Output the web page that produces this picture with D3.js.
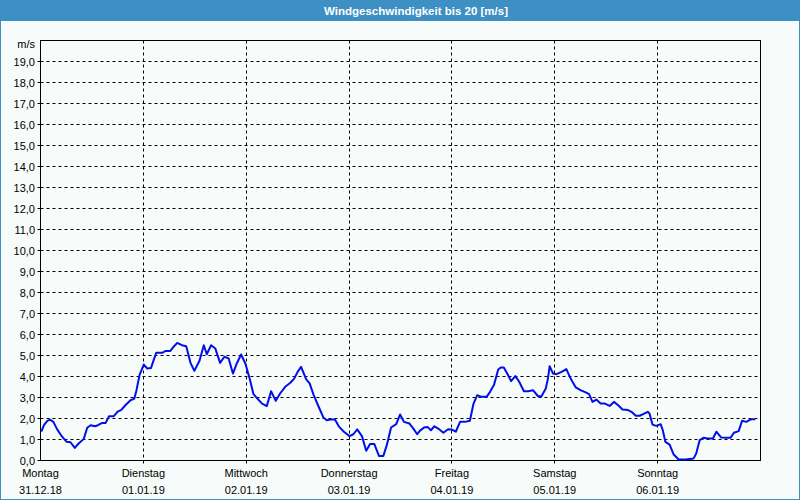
<!DOCTYPE html>
<html><head><meta charset="utf-8">
<script src="https://cdn.jsdelivr.net/npm/d3@7"></script>
<style>
html,body{margin:0;padding:0;background:#f7fbf9;}
svg{display:block;}
</style></head>
<body>
<svg id="c" width="800" height="500"></svg>
<script>
const title = "Windgeschwindigkeit bis 20 [m/s]";
const unitLabel = "m/s";
const dayNames = ["Montag","Dienstag","Mittwoch","Donnerstag","Freitag","Samstag","Sonntag"];
const dayDates = ["31.12.18","01.01.19","02.01.19","03.01.19","04.01.19","05.01.19","06.01.19"];
const yTicks = [0,1,2,3,4,5,6,7,8,9,10,11,12,13,14,15,16,17,18,19];
// hours since Monday 00:00
const hours = [0.2,0.8,1.6,2.2,3.0,3.9,4.8,6.1,7.0,8.0,8.9,10.1,10.9,11.7,12.7,13.4,14.4,15.2,16.0,17.1,18.0,18.8,19.8,21.0,21.9,22.4,23.1,24.1,24.9,25.8,26.4,27.0,28.4,29.1,30.3,30.9,31.9,33.0,34.0,35.0,35.9,37.1,38.1,38.8,39.8,40.8,41.9,42.9,43.9,44.9,45.8,46.8,47.8,48.8,49.7,50.6,51.7,52.8,53.8,54.9,55.9,57.1,58.3,59.2,60.0,60.8,62.0,62.8,63.7,64.9,66.0,66.8,67.6,68.7,69.7,70.8,72.1,73.0,73.9,75.0,76.0,76.9,77.9,79.0,80.0,80.8,81.8,83.0,83.9,84.8,86.1,87.0,87.9,88.5,89.5,90.3,91.1,91.9,92.8,94.0,95.1,95.9,96.9,97.9,99.0,100.2,101.0,101.9,102.9,104.1,104.9,105.8,106.8,107.4,108.1,108.9,109.8,110.8,111.7,112.8,113.8,114.9,116.1,116.9,117.9,118.4,118.8,119.6,120.4,121.6,122.7,123.7,124.9,126.0,127.2,128.0,128.8,129.7,130.7,131.7,132.8,133.8,134.8,135.8,137.1,137.9,138.9,139.8,140.6,141.7,142.1,142.8,143.7,144.7,145.2,145.8,146.8,147.7,148.9,150.5,152.4,153.0,153.8,154.7,155.7,156.9,157.7,158.8,160.0,161.0,161.8,162.9,163.7,164.7,165.4,166.1,166.8];
const speed = [1.37,1.68,1.89,1.95,1.84,1.48,1.20,0.89,0.87,0.60,0.81,1.03,1.56,1.68,1.63,1.68,1.79,1.79,2.11,2.11,2.33,2.40,2.63,2.87,2.95,3.35,4.06,4.57,4.38,4.41,4.78,5.13,5.13,5.21,5.22,5.38,5.60,5.49,5.44,4.65,4.27,4.75,5.49,5.06,5.49,5.33,4.65,4.94,4.86,4.14,4.62,5.05,4.62,3.90,3.16,2.95,2.71,2.59,3.30,2.84,3.19,3.51,3.70,3.90,4.22,4.46,3.86,3.67,3.14,2.56,2.05,1.92,1.95,1.95,1.60,1.37,1.16,1.25,1.48,1.16,0.46,0.78,0.78,0.21,0.22,0.73,1.57,1.73,2.19,1.84,1.76,1.52,1.25,1.41,1.57,1.60,1.44,1.63,1.52,1.32,1.49,1.48,1.37,1.84,1.84,1.89,2.68,3.11,3.03,3.03,3.27,3.59,4.33,4.43,4.43,4.14,3.78,4.02,3.75,3.30,3.30,3.35,3.06,3.06,3.43,3.90,4.49,4.14,4.11,4.22,4.35,3.90,3.48,3.35,3.24,3.16,2.79,2.90,2.71,2.71,2.60,2.79,2.63,2.43,2.40,2.32,2.13,2.13,2.21,2.32,2.24,1.71,1.65,1.73,1.44,0.89,0.76,0.30,0.05,0.05,0.10,0.33,0.97,1.08,1.05,1.05,1.37,1.10,1.08,1.08,1.32,1.40,1.89,1.84,1.92,1.97,1.97];

const W = 800, H = 500;
const svg = d3.select("#c");
const font = "'Liberation Sans', Arial, sans-serif";

// window frame
svg.append("rect").attr("x",0.5).attr("y",0.5).attr("width",W-1).attr("height",H-1)
  .attr("fill","#f7fbf9").attr("stroke","#3d8fc4").attr("stroke-width",1);
svg.append("rect").attr("x",0).attr("y",0).attr("width",W).attr("height",21).attr("fill","#3d8fc4");
svg.append("text").attr("x",416).attr("y",15).attr("text-anchor","middle")
  .attr("font-family",font).attr("font-weight","bold").attr("font-size",11.5)
  .attr("fill","#ffffff").text(title);

const x = d3.scaleLinear().domain([0,168]).range([40.5,760.5]);
const y = d3.scaleLinear().domain([0,20]).range([460.5,40.5]);
const px = v => Math.round(v - 0.5) + 0.5;

const g = svg.append("g");
// horizontal grid
g.selectAll("line.hg").data(yTicks.filter(d=>d>0)).join("line")
  .attr("x1",x(0)).attr("x2",x(168)).attr("y1",d=>px(y(d))).attr("y2",d=>px(y(d)))
  .attr("stroke","#000").attr("stroke-width",1).attr("stroke-dasharray","3,3");
// vertical grid
const days = d3.range(0,7);
g.selectAll("line.vg").data(days.filter(d=>d>0)).join("line")
  .attr("x1",d=>px(x(d*24))).attr("x2",d=>px(x(d*24))).attr("y1",y(20)).attr("y2",y(0)+3)
  .attr("stroke","#000").attr("stroke-width",1).attr("stroke-dasharray","3,3");

// frame
g.append("rect").attr("x",x(0)).attr("y",y(20)).attr("width",x(168)-x(0)).attr("height",y(0)-y(20))
  .attr("fill","none").attr("stroke","#000").attr("stroke-width",1);
// y ticks
g.selectAll("line.yt").data(yTicks).join("line")
  .attr("x1",x(0)-3).attr("x2",x(0)).attr("y1",d=>px(y(d))).attr("y2",d=>px(y(d)))
  .attr("stroke","#000");
// y labels
g.selectAll("text.yl").data(yTicks).join("text")
  .attr("x",35).attr("y",d=>y(d)+4).attr("text-anchor","end")
  .attr("font-family",font).attr("font-size",11).attr("fill","#000")
  .text(d=>d3.format(".1f")(d).replace(".",","));
g.append("text").attr("x",35).attr("y",48).attr("text-anchor","end")
  .attr("font-family",font).attr("font-size",11).attr("fill","#000").text(unitLabel);
// x labels
g.selectAll("text.xn").data(days).join("text")
  .attr("x",d=>x(d*24)).attr("y",477).attr("text-anchor","middle")
  .attr("font-family",font).attr("font-size",11).attr("fill","#000").text(d=>dayNames[d]);
g.selectAll("text.xd").data(days).join("text")
  .attr("x",d=>x(d*24)).attr("y",494).attr("text-anchor","middle")
  .attr("font-family",font).attr("font-size",11).attr("fill","#000").text(d=>dayDates[d]);

// line
const pts = hours.map((h,i)=>[h,speed[i]]);
const line = d3.line().x(d=>x(d[0])).y(d=>y(d[1]));
svg.append("path").datum(pts).attr("d",line).attr("fill","none")
  .attr("stroke","#0010e8").attr("stroke-width",2).attr("stroke-linejoin","round");
</script>
</body></html>
